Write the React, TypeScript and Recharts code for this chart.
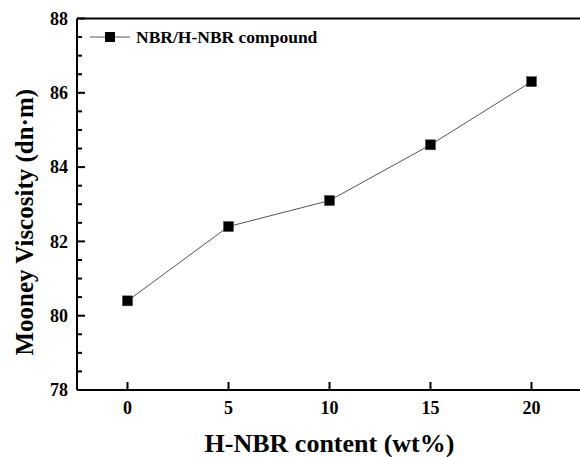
import React from "react";
import { LineChart, Line, XAxis, YAxis, ReferenceLine } from "recharts";

const contents = [0, 5, 10, 15, 20];
const viscosity = [80.4, 82.4, 83.1, 84.6, 86.3];
const xTicks = [0, 5, 10, 15, 20];
const yTicks = [78, 78.5, 79, 79.5, 80, 80.5, 81, 81.5, 82, 82.5, 83, 83.5, 84, 84.5, 85, 85.5, 86, 86.5, 87, 87.5, 88];

const data = contents.map((c, i) => ({ x: c, y: viscosity[i] }));

const FONT = "'Liberation Serif', 'Times New Roman', serif";

const SquareDot = (props: any) => {
  const { cx, cy } = props;
  if (cx == null || cy == null) return null;
  return <rect x={cx - 5} y={cy - 5} width={10} height={10} fill="#000" stroke="#444" strokeWidth={0.5} />;
};

// inward ticks; labels only on the even values
const YTick = (props: any) => {
  const { x, y, payload } = props;
  const v = payload.value;
  const major = v % 2 === 0;
  return (
    <g>
      <rect x={x} y={y - 1} width={major ? 8 : 5} height={2} fill="#000" />
      {major && (
        <text x={x - 9} y={y} dy="0.35em" textAnchor="end" fontFamily={FONT} fontWeight="bold" fontSize={18} fill="#000">
          {v}
        </text>
      )}
    </g>
  );
};

const XTick = (props: any) => {
  const { x, y, payload } = props;
  return (
    <g>
      <rect x={x - 1} y={y - 8} width={2} height={8} fill="#000" />
      <text x={x} y={y + 18} dy="0.35em" textAnchor="middle" fontFamily={FONT} fontWeight="bold" fontSize={18} fill="#000">
        {payload.value}
      </text>
    </g>
  );
};

const XTitle = (props: any) => {
  const { viewBox } = props;
  const cx = viewBox.x + viewBox.width / 2;
  return (
    <text x={cx} y={viewBox.y + 62} textAnchor="middle" fontFamily={FONT} fontWeight="bold" fontSize={26} fill="#000">
      H-NBR content (wt%)
    </text>
  );
};

const YTitle = (props: any) => {
  const { viewBox } = props;
  const cy = viewBox.y + viewBox.height / 2 + 18;
  const bx = viewBox.x + 33;
  return (
    <text
      x={bx}
      y={cy}
      transform={`rotate(-90 ${bx} ${cy})`}
      textAnchor="middle"
      fontFamily={FONT}
      fontWeight="bold"
      fontSize={25}
      fill="#000"
    >
      Mooney Viscosity (dn·m)
    </text>
  );
};

export default function App() {
  return (
    <div style={{ position: "absolute", left: 0, top: 0, width: 580, height: 457, overflow: "hidden", background: "#fff" }}>
      <LineChart width={600} height={457} data={data} margin={{ top: 18.5, right: 18, left: 0, bottom: 0 }}>
        <XAxis
          type="number"
          dataKey="x"
          domain={[-2.5, 22.5]}
          ticks={xTicks}
          height={67}
          tickSize={0}
          tickMargin={0}
          tick={<XTick />}
          axisLine={{ stroke: "#000", strokeWidth: 2 }}
          interval={0}
          label={<XTitle />}
        />
        <YAxis
          type="number"
          domain={[78, 88]}
          ticks={yTicks}
          width={77}
          tickSize={0}
          tickMargin={0}
          tick={<YTick />}
          axisLine={{ stroke: "#000", strokeWidth: 2 }}
          interval={0}
          label={<YTitle />}
        />
        <ReferenceLine y={88} stroke="#000" strokeWidth={2} />
        <Line
          type="linear"
          dataKey="y"
          stroke="#555"
          strokeWidth={1}
          dot={<SquareDot />}
          activeDot={false}
          isAnimationActive={false}
        />
      </LineChart>
      <div style={{ position: "absolute", left: 88, top: 25, width: 280, height: 24 }}>
        <svg width={280} height={24}>
          <line x1={2} x2={42} y1={12} y2={12} stroke="#555" strokeWidth={1} />
          <rect x={17} y={7} width={10} height={10} fill="#000" />
          <text x={48} y={12} dy="0.35em" fontFamily={FONT} fontWeight="bold" fontSize={17.5} fill="#000">
            NBR/H-NBR compound
          </text>
        </svg>
      </div>
    </div>
  );
}
